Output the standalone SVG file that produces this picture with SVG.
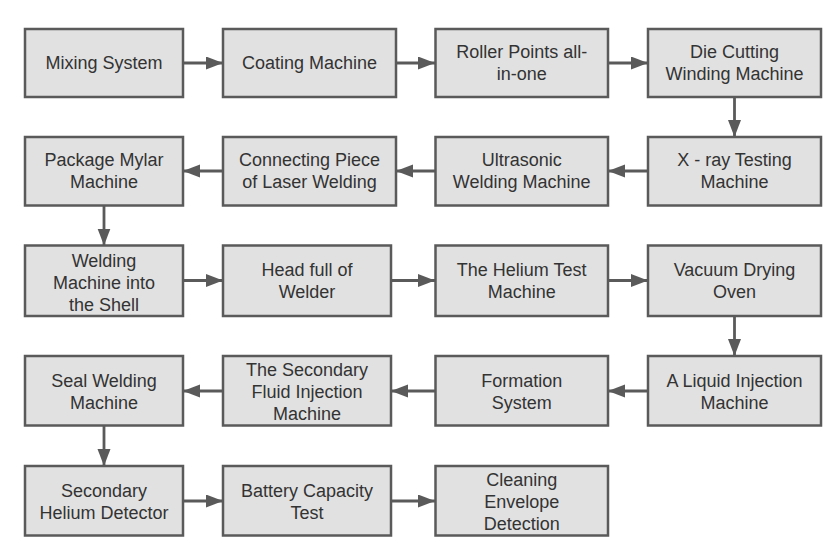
<svg xmlns="http://www.w3.org/2000/svg" width="840" height="560" viewBox="0 0 840 560">
<style>
.box{fill:#e1e1e1;stroke:#5a5a5a;stroke-width:2.5}
.inner{fill:none;stroke:#f0f0f0;stroke-width:1}
.t{font-family:"Liberation Sans",Arial,sans-serif;font-size:18px;fill:#333;text-anchor:middle}
.c{stroke:#5a5a5a;stroke-width:2.8;fill:none;marker-end:url(#ah)}
</style>
<defs>
<marker id="ah" markerUnits="userSpaceOnUse" markerWidth="18" markerHeight="14" refX="17" refY="6.5" orient="auto">
<path d="M0,0 L17,6.5 L0,13 z" fill="#5a5a5a"/>
</marker>
</defs>
<rect width="840" height="560" fill="#fff"/>
<g id="connectors">
<line class="c" x1="183" y1="63" x2="223" y2="63"/>
<line class="c" x1="396" y1="63" x2="435" y2="63"/>
<line class="c" x1="608" y1="63" x2="648" y2="63"/>
<line class="c" x1="734.5" y1="97" x2="734.5" y2="137"/>
<line class="c" x1="648" y1="171" x2="608" y2="171"/>
<line class="c" x1="435" y1="171" x2="396" y2="171"/>
<line class="c" x1="223" y1="171" x2="183" y2="171"/>
<line class="c" x1="104" y1="205" x2="104" y2="245.5"/>
<line class="c" x1="183" y1="280.5" x2="223" y2="280.5"/>
<line class="c" x1="391" y1="280.5" x2="435" y2="280.5"/>
<line class="c" x1="608" y1="280.5" x2="648" y2="280.5"/>
<line class="c" x1="734.5" y1="316" x2="734.5" y2="356"/>
<line class="c" x1="648" y1="391" x2="608" y2="391"/>
<line class="c" x1="435" y1="391" x2="391" y2="391"/>
<line class="c" x1="223" y1="391" x2="183" y2="391"/>
<line class="c" x1="104" y1="425.5" x2="104" y2="466"/>
<line class="c" x1="183" y1="501" x2="223" y2="501"/>
<line class="c" x1="391" y1="501" x2="435" y2="501"/>
</g>
<g id="n1"><rect class="box" x="25" y="29" width="158" height="68"/><text class="t" x="104" y="69.3">Mixing System</text></g>
<g id="n2"><rect class="box" x="223" y="29" width="173" height="68"/><text class="t" x="309.5" y="69.3">Coating Machine</text></g>
<g id="n3"><rect class="box" x="435.5" y="29" width="172.5" height="68"/><text class="t" x="521.7" y="58.3">Roller Points all-</text><text class="t" x="521.7" y="80.3">in-one</text></g>
<g id="n4"><rect class="box" x="648" y="29" width="173" height="68"/><text class="t" x="734.5" y="58.3">Die Cutting</text><text class="t" x="734.5" y="80.3">Winding Machine</text></g>
<g id="n5"><rect class="box" x="648" y="137" width="173" height="68.5"/><text class="t" x="734.5" y="166.3">X - ray Testing</text><text class="t" x="734.5" y="188.3">Machine</text></g>
<g id="n6"><rect class="box" x="435.5" y="137" width="172.5" height="68.5"/><text class="t" x="521.7" y="166.3">Ultrasonic</text><text class="t" x="521.7" y="188.3">Welding Machine</text></g>
<g id="n7"><rect class="box" x="223" y="137" width="173" height="68.5"/><text class="t" x="309.5" y="166.3">Connecting Piece</text><text class="t" x="309.5" y="188.3">of Laser Welding</text></g>
<g id="n8"><rect class="box" x="25" y="137" width="158" height="68.5"/><text class="t" x="104" y="166.3">Package Mylar</text><text class="t" x="104" y="188.3">Machine</text></g>
<g id="n9"><rect class="box" x="25" y="245.5" width="158" height="70.5"/><text class="t" x="104" y="266.8">Welding</text><text class="t" x="104" y="288.8">Machine into</text><text class="t" x="104" y="310.8">the Shell</text></g>
<g id="n10"><rect class="box" x="223" y="245.5" width="168" height="70.5"/><text class="t" x="307" y="276.3">Head full of</text><text class="t" x="307" y="298.3">Welder</text></g>
<g id="n11"><rect class="box" x="435.5" y="245.5" width="172.5" height="70.5"/><text class="t" x="521.7" y="276.3">The Helium Test</text><text class="t" x="521.7" y="298.3">Machine</text></g>
<g id="n12"><rect class="box" x="648" y="245.5" width="173" height="70.5"/><text class="t" x="734.5" y="276.3">Vacuum Drying</text><text class="t" x="734.5" y="298.3">Oven</text></g>
<g id="n13"><rect class="box" x="648" y="356" width="173" height="69.5"/><text class="t" x="734.5" y="387">A Liquid Injection</text><text class="t" x="734.5" y="409">Machine</text></g>
<g id="n14"><rect class="box" x="435.5" y="356" width="172.5" height="69.5"/><text class="t" x="521.7" y="387">Formation</text><text class="t" x="521.7" y="409">System</text></g>
<g id="n15"><rect class="box" x="223" y="356" width="168" height="69.5"/><text class="t" x="307" y="376">The Secondary</text><text class="t" x="307" y="398">Fluid Injection</text><text class="t" x="307" y="420">Machine</text></g>
<g id="n16"><rect class="box" x="25" y="356" width="158" height="69.5"/><text class="t" x="104" y="387">Seal Welding</text><text class="t" x="104" y="409">Machine</text></g>
<g id="n17"><rect class="box" x="25" y="466" width="158" height="69.5"/><text class="t" x="104" y="497">Secondary</text><text class="t" x="104" y="519">Helium Detector</text></g>
<g id="n18"><rect class="box" x="223" y="466" width="168" height="69.5"/><text class="t" x="307" y="497">Battery Capacity</text><text class="t" x="307" y="519">Test</text></g>
<g id="n19"><rect class="box" x="435.5" y="466" width="172.5" height="69.5"/><text class="t" x="521.7" y="486">Cleaning</text><text class="t" x="521.7" y="508">Envelope</text><text class="t" x="521.7" y="530">Detection</text></g>
</svg>
